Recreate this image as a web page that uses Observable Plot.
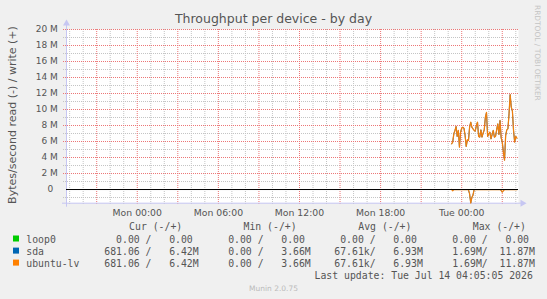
<!DOCTYPE html>
<html><head><meta charset="utf-8">
<script src="https://cdn.jsdelivr.net/npm/d3@7"></script>
<script src="https://cdn.jsdelivr.net/npm/@observablehq/plot@0.6"></script>
<style>
html,body{margin:0;padding:0;background:#f0f0f0;}
#chart{position:relative;width:547px;height:299px;overflow:hidden;background:#f0f0f0;}
#chart svg{position:absolute;left:0;top:0;}
</style></head><body><div id="chart"></div>
<script>
// ---------- data ----------
const title = "Throughput per device - by day";
const yLabel = "Bytes/second read (-) / write (+)";
const sideText = "RRDTOOL / TOBI OETIKER";
const footer = "Munin 2.0.75";
const lastUpdate = "Last update: Tue Jul 14 04:05:05 2026";

const sampleTimes = ["Mon 23:15","Mon 23:20","Mon 23:25","Mon 23:30","Mon 23:35","Mon 23:40","Mon 23:45","Mon 23:50","Mon 23:55",
  "Tue 00:00","Tue 00:05","Tue 00:10","Tue 00:15","Tue 00:20","Tue 00:25","Tue 00:30","Tue 00:35","Tue 00:40","Tue 00:45","Tue 00:50","Tue 00:55",
  "Tue 01:00","Tue 01:05","Tue 01:10","Tue 01:15","Tue 01:20","Tue 01:25","Tue 01:30","Tue 01:35","Tue 01:40","Tue 01:45","Tue 01:50","Tue 01:55",
  "Tue 02:00","Tue 02:05","Tue 02:10","Tue 02:15","Tue 02:20","Tue 02:25","Tue 02:30","Tue 02:35","Tue 02:40","Tue 02:45","Tue 02:50","Tue 02:55",
  "Tue 03:00","Tue 03:05","Tue 03:10","Tue 03:15","Tue 03:20","Tue 03:25","Tue 03:30","Tue 03:35","Tue 03:40","Tue 03:45","Tue 03:50","Tue 03:55",
  "Tue 04:00","Tue 04:05"];
// write (+) in MB/s, identical for sda and ubuntu-lv
const writeM = [5.71,5.92,6.96,7.38,7.88, 6.63,7.38,5.29,7.17,7.67, 7.79,7.67,6.75,5.38,6.21, 6.13,7.79,8.42,7.79,7.58,
  7.38,7.29,8.0,8.42,6.63, 6.54,7.46,6.54,7.04,7.46, 9.04,9.63,6.63,6.96,7.17, 6.33,6.88,7.38,6.54,6.63,
  7.46,8.21,6.88,8.63,6.46, 5.92,4.67,3.66,6.75,7.46, 7.58,9.46,11.87,10.29,9.79, 7.38,5.92,6.63,6.42];
// read (-) in MB/s
const readM = [0,0.15,0,0,0, 0,0,0,0,0, 0,0,0,0,0, 0.05,0.55,1.69,1.0,0.7,
  0,0,0,0,0, 0,0,0,0,0, 0,0,0,0,0, 0,0,0,0,0,
  0,0,0,0,0.1, 0.33,0.15,0,0,0, 0,0,0,0,0, 0,0,0,0.00068];
const loop0M = sampleTimes.map(() => 0);

const yTicks = [0,2e6,4e6,6e6,8e6,10e6,12e6,14e6,16e6,18e6,20e6];
const yTickLabels = ["0","2 M","4 M","6 M","8 M","10 M","12 M","14 M","16 M","18 M","20 M"];
const xTickTimes = ["Mon 00:00","Mon 06:00","Mon 12:00","Mon 18:00","Tue 00:00"];
const xTickLabels = ["Mon 00:00","Mon 06:00","Mon 12:00","Mon 18:00","Tue 00:00"];
const xDomain = ["Sun 18:46","Tue 04:12"];
const yDomain = [-1.71e6, 20e6];

const legendNames = ["loop0","sda","ubuntu-lv"];
const legendColors = ["#00CC00","#0066B3","#FF8000"];
const legendHeaders = ["Cur (-/+)","Min (-/+)","Avg (-/+)","Max (-/+)"];
const curRead = ["0.00","681.06","681.06"], curWrite = ["0.00","6.42M","6.42M"];
const minRead = ["0.00","0.00","0.00"], minWrite = ["0.00","3.66M","3.66M"];
const avgRead = ["0.00","67.61k","67.61k"], avgWrite = ["0.00","6.93M","6.93M"];
const maxRead = ["0.00","1.69M","1.69M"], maxWrite = ["0.00","11.87M","11.87M"];

// ---------- helpers ----------
const dayOf = {Sun: 12, Mon: 13, Tue: 14};
function parseT(s) {
  const [d, hm] = s.split(" ");
  const [h, m] = hm.split(":").map(Number);
  return new Date(2026, 6, dayOf[d], h, m);
}
const xStart = parseT(xDomain[0]), xEnd = parseT(xDomain[1]);
const series = [];
sampleTimes.forEach((t, i) => {
  const date = parseT(t);
  series.push({date, v: loop0M[i], dev: "loop0"});
  series.push({date, v: writeM[i] * 1e6, dev: "sda+"});
  series.push({date, v: -readM[i] * 1e6, dev: "sda-"});
  series.push({date, v: writeM[i] * 1e6, dev: "lv+"});
  series.push({date, v: -readM[i] * 1e6, dev: "lv-"});
});
const hours = d3.timeHour.range(d3.timeHour.ceil(xStart), xEnd);
const minorX = hours.filter(d => d.getHours() % 3 !== 0);
const majorX = hours.filter(d => d.getHours() % 3 === 0);
const minorY = d3.range(-1e6, 20e6 + 1, 1e6).filter(v => (v / 1e6) % 2 !== 0);
const majorY = d3.range(2e6, 20e6 + 1, 2e6);
const xTicks = xTickTimes.map(parseT);
const xLabelMap = new Map(xTicks.map((d, i) => [+d, xTickLabels[i]]));

const gridMinor = "#c4c4c4", gridMajor = "#ec7676", axisColor = "#c6c6f2";
const W = 547, H = 299;

const chart = Plot.plot({
  width: W, height: H,
  marginLeft: 66, marginRight: 29, marginTop: 29, marginBottom: 96.3,
  style: {background: "transparent", fontFamily: "'DejaVu Sans', sans-serif", color: "#555", overflow: "visible"},
  x: {type: "time", domain: [xStart, xEnd], label: null},
  y: {type: "linear", domain: yDomain, label: null},
  marks: [
    Plot.frame({fill: "white", stroke: "none"}),
    Plot.ruleY(minorY, {stroke: gridMinor, strokeDasharray: "1,1", insetLeft: -3}),
    Plot.ruleX(minorX, {stroke: gridMinor, strokeDasharray: "1,1", insetBottom: -2}),
    Plot.ruleY(majorY, {stroke: gridMajor, strokeDasharray: "1,1", insetLeft: -3}),
    Plot.ruleX(majorX, {stroke: gridMajor, strokeDasharray: "1,1", insetBottom: -2}),
    Plot.ruleX([xStart], {stroke: axisColor, insetTop: -6, insetBottom: -4}),
    Plot.ruleY([yDomain[0]], {stroke: axisColor, insetLeft: -4, insetRight: -3}),
    Plot.dot([xStart], {x: d => d, frameAnchor: "top", symbol: "triangle", r: 2.6, fill: axisColor, stroke: "none", dy: -6}),
    Plot.dot([yDomain[0]], {y: d => d, frameAnchor: "right", symbol: "triangle", rotate: 90, r: 2.6, fill: axisColor, stroke: "none", dx: 4}),
    Plot.axisY({ticks: yTicks, label: null, tickFormat: d => { const l = yTickLabels[yTicks.indexOf(d)]; return l === "0" ? "0\u2002" : l; },
      tickSize: 0, tickPadding: 8.7, fontSize: 9, fill: "#555"}),
    Plot.axisX({ticks: xTicks, label: null, tickFormat: d => xLabelMap.get(+d), tickSize: 0, tickPadding: 6.2, fontSize: 9.3, fill: "#555"}),
    Plot.line(series.filter(d => d.dev === "loop0"), {x: "date", y: "v", stroke: legendColors[0], strokeWidth: 1}),
    Plot.line(series.filter(d => d.dev === "sda+"), {x: "date", y: "v", stroke: legendColors[1], strokeWidth: 1}),
    Plot.line(series.filter(d => d.dev === "sda-"), {x: "date", y: "v", stroke: legendColors[1], strokeWidth: 1}),
    Plot.line(series.filter(d => d.dev === "lv+"), {x: "date", y: "v", stroke: legendColors[2], strokeWidth: 1.25, strokeOpacity: 0.93}),
    Plot.line(series.filter(d => d.dev === "lv-"), {x: "date", y: "v", stroke: legendColors[2], strokeWidth: 1.25, strokeOpacity: 0.93}),
    Plot.ruleY([0], {stroke: "#000", strokeWidth: 1})
  ]
});
document.getElementById("chart").appendChild(chart);

// ---------- text & legend ----------
const svg = d3.select(chart);
const sans = "'DejaVu Sans', sans-serif", mono = "'DejaVu Sans Mono', monospace";
function addText(x, y, str, opts) {
  const t = svg.append("text").attr("x", x).attr("y", y)
    .attr("text-anchor", opts.anchor || "start")
    .style("font-family", opts.font || sans).style("font-size", opts.size)
    .style("white-space", "pre").attr("fill", opts.fill || "#555").text(str);
  if (opts.transform) t.attr("transform", opts.transform).attr("x", 0).attr("y", 0);
  return t;
}
addText(273.5, 23.3, title, {anchor: "middle", size: "12.5px"});
addText(0, 0, yLabel, {anchor: "middle", size: "11px", transform: "translate(15.7,115) rotate(-90)"});
addText(0, 0, sideText, {anchor: "start", size: "7.45px", fill: "#c4c4c4", transform: "translate(535,5) rotate(90)"});
addText(273.5, 291, footer, {anchor: "middle", size: "7.5px", fill: "#bbbbbb"});

const legendFont = "9.8px";
const headerX = [129.1, 243.5, 358.3, 472.8];
legendHeaders.forEach((h, i) => addText(headerX[i], 229.8, h, {font: mono, size: legendFont}));
function splitUnit(s) {
  const last = s[s.length - 1];
  return /[a-zA-Z]/.test(last) ? [s.slice(0, -1), last] : [s, " "];
}
function field(r, w) {
  const [rn, ru] = splitUnit(r), [wn, wu] = splitUnit(w);
  return rn.padStart(6) + ru + "/" + wn.padStart(7) + wu;
}
const rowY = [242.5, 254.6, 266.6];
legendNames.forEach((name, i) => {
  const y = rowY[i];
  svg.append("rect").attr("x", 13).attr("y", y - 7).attr("width", 6).attr("height", 6).attr("fill", legendColors[i]);
  addText(26.3, y, name, {font: mono, size: legendFont});
  const row = [field(curRead[i], curWrite[i]), field(minRead[i], minWrite[i]), field(avgRead[i], avgWrite[i]), field(maxRead[i], maxWrite[i])].join("   ");
  addText(104.3, y, row, {font: mono, size: legendFont});
});
addText(532.8, 278.8, lastUpdate, {anchor: "end", font: mono, size: legendFont});
</script></body></html>
